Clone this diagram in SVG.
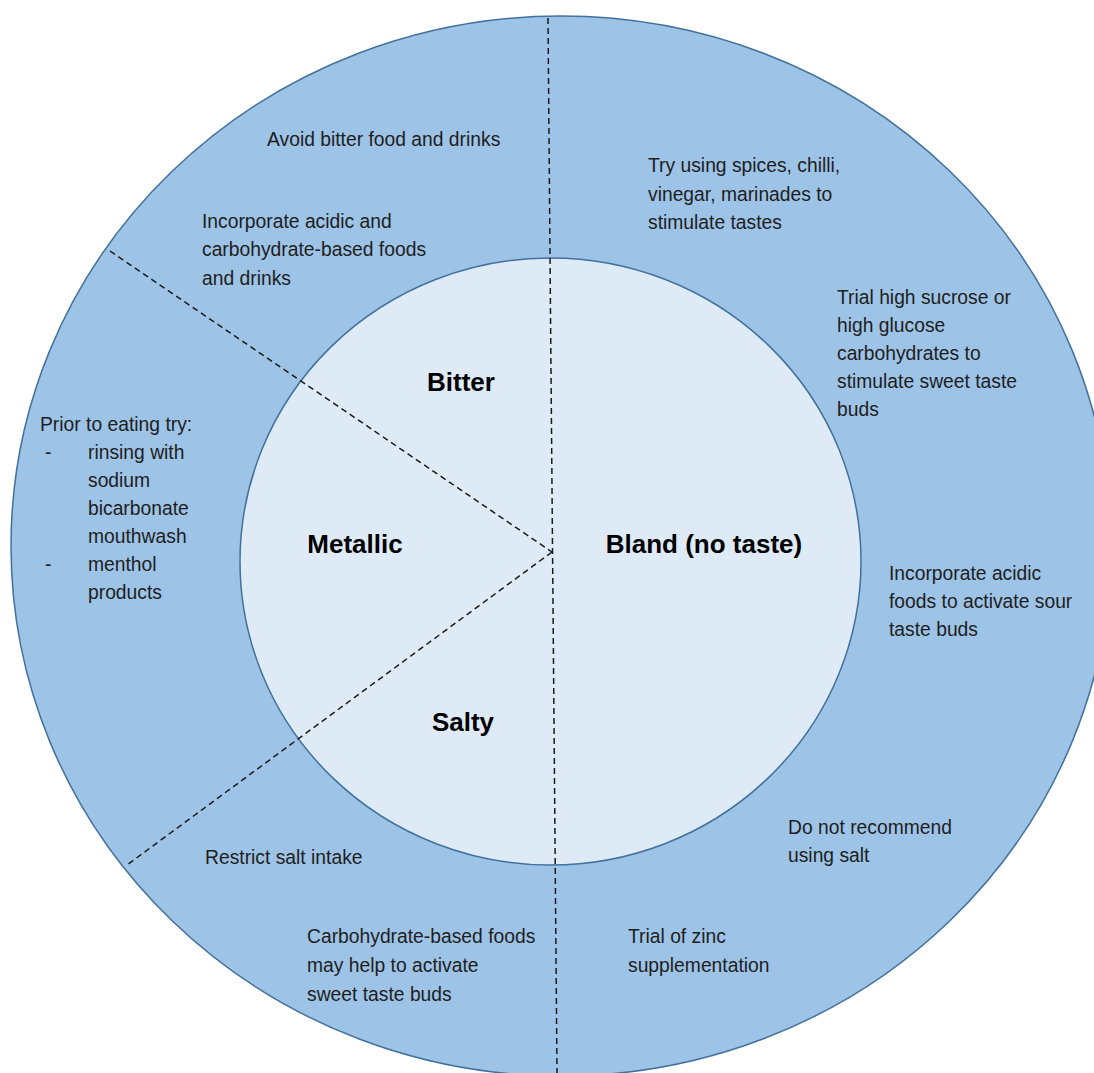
<svg xmlns="http://www.w3.org/2000/svg" width="1094" height="1073" viewBox="0 0 1094 1073">
  <style>
    .ring { fill: #9DC3E6; stroke: #41719C; stroke-width: 1.5; }
    .core { fill: #DEEBF7; stroke: #41719C; stroke-width: 1.5; }
    .div { fill: none; stroke: #1a1a1a; stroke-width: 1.5; stroke-dasharray: 6 4; }
    .t { font-family: "Liberation Sans", Arial, sans-serif; font-size: 19.3px; fill: #1e1e1e; }
    .h { font-family: "Liberation Sans", Arial, sans-serif; font-size: 26px; font-weight: bold; fill: #000; text-anchor: middle; }
  </style>
  <rect width="1094" height="1073" fill="#ffffff"/>
  <g id="outer-ring">
    <ellipse class="ring" cx="561" cy="546" rx="550" ry="530"/>
  </g>
  <g id="inner-circle">
    <ellipse class="core" cx="550.5" cy="561.5" rx="310.5" ry="303.5"/>
  </g>
  <g id="connectors">
    <line class="div" x1="548" y1="18" x2="557" y2="1073"/>
    <line class="div" x1="110" y1="251" x2="552" y2="552"/>
    <line class="div" x1="552" y1="552" x2="127" y2="865"/>
  </g>
  <g id="label-bitter"><text class="h" x="461" y="391">Bitter</text></g>
  <g id="label-metallic"><text class="h" x="355" y="553">Metallic</text></g>
  <g id="label-bland"><text class="h" x="704" y="553">Bland (no taste)</text></g>
  <g id="label-salty"><text class="h" x="463" y="731">Salty</text></g>

  <g id="bitter-tip-1"><text class="t" x="267" y="146">Avoid bitter food and drinks</text></g>
  <g id="bitter-tip-2">
    <text class="t" x="202" y="228">Incorporate acidic and</text>
    <text class="t" x="202" y="256">carbohydrate-based foods</text>
    <text class="t" x="202" y="285">and drinks</text>
  </g>
  <g id="bland-tip-1">
    <text class="t" x="648" y="172">Try using spices, chilli,</text>
    <text class="t" x="648" y="201">vinegar, marinades to</text>
    <text class="t" x="648" y="229">stimulate tastes</text>
  </g>
  <g id="bland-tip-2">
    <text class="t" x="837" y="304">Trial high sucrose or</text>
    <text class="t" x="837" y="332">high glucose</text>
    <text class="t" x="837" y="360">carbohydrates to</text>
    <text class="t" x="837" y="388">stimulate sweet taste</text>
    <text class="t" x="837" y="416">buds</text>
  </g>
  <g id="metallic-tip">
    <text class="t" x="40" y="431">Prior to eating try:</text>
    <text class="t" x="45" y="459">-</text>
    <text class="t" x="88" y="459">rinsing with</text>
    <text class="t" x="88" y="487">sodium</text>
    <text class="t" x="88" y="515">bicarbonate</text>
    <text class="t" x="88" y="543">mouthwash</text>
    <text class="t" x="45" y="571">-</text>
    <text class="t" x="88" y="571">menthol</text>
    <text class="t" x="88" y="599">products</text>
  </g>
  <g id="bland-tip-3">
    <text class="t" x="889" y="580">Incorporate acidic</text>
    <text class="t" x="889" y="608">foods to activate sour</text>
    <text class="t" x="889" y="636">taste buds</text>
  </g>
  <g id="bland-tip-4">
    <text class="t" x="788" y="834">Do not recommend</text>
    <text class="t" x="788" y="862">using salt</text>
  </g>
  <g id="salty-tip-1"><text class="t" x="205" y="864">Restrict salt intake</text></g>
  <g id="salty-tip-2">
    <text class="t" x="307" y="943">Carbohydrate-based foods</text>
    <text class="t" x="307" y="972">may help to activate</text>
    <text class="t" x="307" y="1001">sweet taste buds</text>
  </g>
  <g id="bland-tip-5">
    <text class="t" x="628" y="943">Trial of zinc</text>
    <text class="t" x="628" y="972">supplementation</text>
  </g>
</svg>
